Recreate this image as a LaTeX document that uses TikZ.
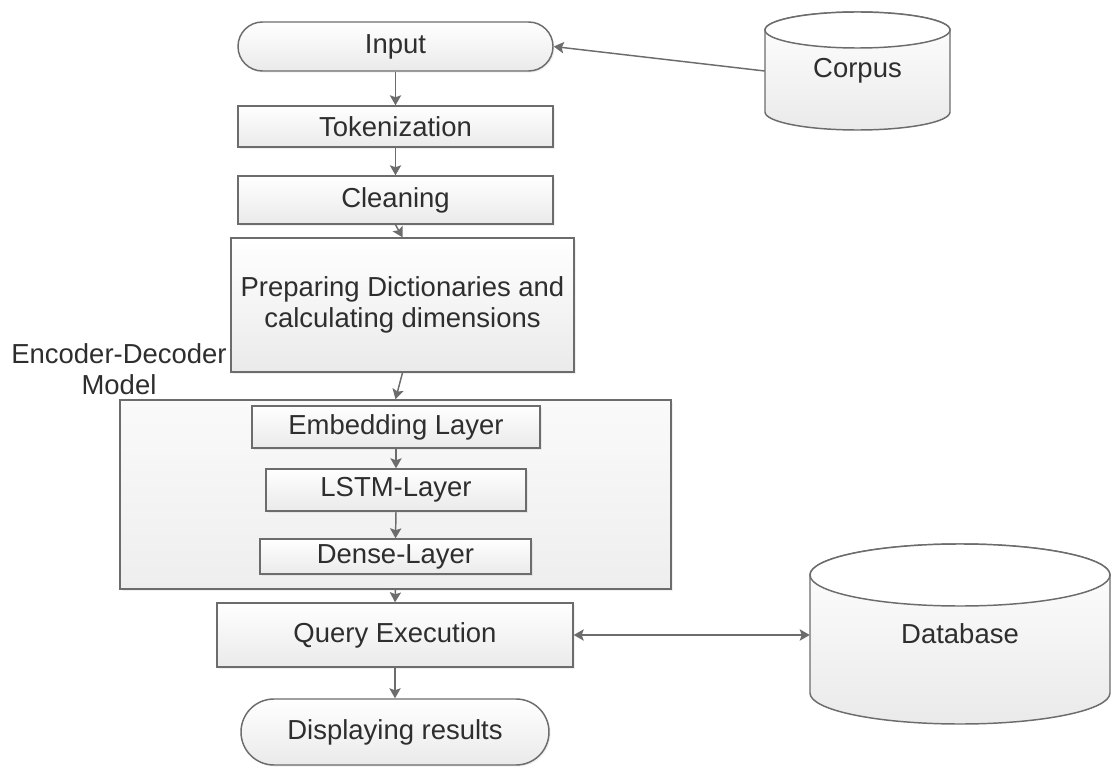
\documentclass[tikz,border=0pt]{standalone}
\usepackage{fontspec}
\setmainfont{Liberation Sans}
\usetikzlibrary{arrows.meta,shadows}
\definecolor{edge}{HTML}{6C6C6C}
\definecolor{ink}{HTML}{2E2E2E}
\definecolor{fillbot}{HTML}{EAEAEA}
\definecolor{groupbot}{HTML}{EEEEEE}
\begin{document}
\begin{tikzpicture}[x=0.75pt,y=0.75pt,
  size/.style 2 args={minimum width=#1*0.75pt, minimum height=#2*0.75pt},
  base/.style={draw=edge, line width=1.1pt, inner sep=0pt, text=ink,
    top color=white, bottom color=fillbot,
    drop shadow={opacity=0.12, shadow xshift=1.2pt, shadow yshift=-1.2pt}},
  procbox/.style={base, rectangle},
  termbox/.style={base, rectangle, rounded corners=#1},
  groupbox/.style={base, rectangle, top color=white!98!black, bottom color=groupbot},
  tip/.tip={Stealth[length=7.5pt,width=8.5pt,inset=1.5pt]},
  link/.style={draw=edge, line width=1.1pt, -tip},
  twoway/.style={draw=edge, line width=1.1pt, tip-tip},
  every node/.style={font=\fontsize{20.6pt}{23.3pt}\selectfont}
]
\useasboundingbox (0,0) rectangle (1111,-767);

% cylinders (storage)
\path[top color=white, bottom color=fillbot, draw=edge, line width=1.1pt]
  (765,-30) -- (765,-112) arc[start angle=180,end angle=360,x radius=69.375pt,y radius=13.5pt]
  -- (950,-30) arc[start angle=0,end angle=180,x radius=69.375pt,y radius=13.5pt] -- cycle;
\draw[draw=edge, line width=1.1pt, fill=white] (857.5,-30) ellipse[x radius=69.375pt,y radius=13.5pt];
\node[size={185}{82}, inner sep=0pt, text=ink] (corpus) at (857.5,-71) {Corpus};

\path[top color=white, bottom color=fillbot, draw=edge, line width=1.1pt]
  (810,-575) -- (810,-693) arc[start angle=180,end angle=360,x radius=112.5pt,y radius=23.25pt]
  -- (1110,-575) arc[start angle=0,end angle=180,x radius=112.5pt,y radius=23.25pt] -- cycle;
\draw[draw=edge, line width=1.1pt, fill=white] (960,-575) ellipse[x radius=112.5pt,y radius=23.25pt];
\node[size={300}{110}, inner sep=0pt, text=ink] (db) at (960,-634) {Database};

% main flow
\node[termbox=18.3pt, size={315}{49}] (input) at (395.5,-46.5) {Input};
\node[procbox, size={315}{41}] (tok) at (395.5,-126.5) {Tokenization};
\node[procbox, size={315}{48}] (clean) at (395.5,-200) {Cleaning};
\node[procbox, size={343}{134}, align=center] (prep) at (402.5,-305)
  {Preparing Dictionaries and\\calculating dimensions};
\node[groupbox, size={551}{189}] (enc) at (395.5,-494.5) {};
\node[procbox, size={288}{42}] (emb) at (396,-427) {Embedding Layer};
\node[procbox, size={260}{42}] (lstm) at (396,-490) {LSTM-Layer};
\node[procbox, size={271}{35}] (dense) at (395.5,-556.5) {Dense-Layer};
\node[procbox, size={356}{64}] (query) at (395,-635) {Query Execution};
\node[termbox=24.7pt, size={308}{66}] (disp) at (395,-732) {Displaying results};
\node[align=center, text=ink, inner sep=0pt] (enclabel) at (119,-369) {Encoder-Decoder\\Model};

% connectors
\draw[link] (corpus.west) -- (input.east);
\draw[link] (input.south) -- (tok.north);
\draw[link] (tok.south) -- (clean.north);
\draw[link] (clean.south) -- (prep.north);
\draw[link] (prep.south) -- (enc.north);
\draw[link] (emb.south) -- (lstm.north);
\draw[link] (lstm.south) -- (dense.north);
\draw[link] (enc.south) -- (query.north);
\draw[link] (query.south) -- (disp.north);
\draw[twoway] (query.east) -- (query.east -| db.west);
\end{tikzpicture}
\end{document}
